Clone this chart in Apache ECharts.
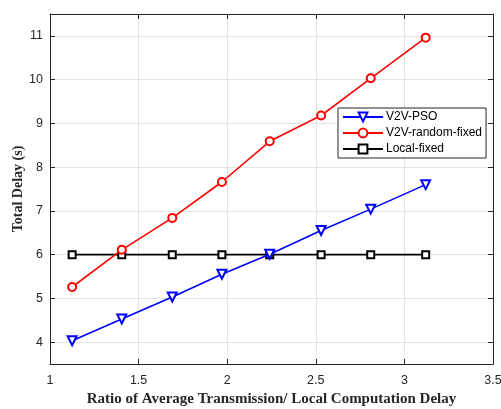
<!DOCTYPE html>
<html><head><meta charset="utf-8">
<script src="https://cdn.jsdelivr.net/npm/echarts@6/dist/echarts.min.js"></script>
<style>html,body{margin:0;padding:0;background:#fff}#c{width:501px;height:409px}</style>
</head><body><div id="c"></div>
<script>
var xValues = [1.125, 1.405, 1.69, 1.97, 2.24, 2.53, 2.81, 3.12];
var pso = [4.03, 4.53, 5.03, 5.55, 6.01, 6.55, 7.04, 7.60];
var randomFixed = [5.26, 6.11, 6.84, 7.66, 8.59, 9.18, 10.03, 10.96];
var localFixed = [6, 6, 6, 6, 6, 6, 6, 6];
var xTicks = [1, 1.5, 2, 2.5, 3, 3.5];
var yTicks = [4, 5, 6, 7, 8, 9, 10, 11];

function pairs(ys){ return xValues.map(function(x,i){ return [x, ys[i]]; }); }
var axisCol = '#262626';
var chart = echarts.init(document.getElementById('c'));
var baseX = {
  type:'value', min:1, max:3.5, interval:0.5,
  axisLine:{show:true, onZero:false, lineStyle:{color:axisCol, width:1}},
  axisTick:{show:true, inside:true, length:5, lineStyle:{color:axisCol}},
  splitLine:{show:true, lineStyle:{color:'#e3e3e3', width:1}}
};
var baseY = {
  type:'value', min:3.5, max:11.5,
  axisLine:{show:true, onZero:false, lineStyle:{color:axisCol, width:1}},
  axisTick:{show:true, inside:true, length:5, customValues:yTicks, lineStyle:{color:axisCol}},
  splitLine:{show:true, lineStyle:{color:'#e3e3e3', width:1}}
};
chart.setOption({
  animation:false,
  grid:{left:50, right:8, top:14, bottom:45, containLabel:false, outerBoundsMode:'none'},
  graphic:[{
    type:'text', x:18, y:189, rotation:Math.PI/2,
    style:{text:'Total Delay (s)', align:'center', verticalAlign:'middle',
      font:'bold 14px "Liberation Serif"', fill:axisCol}
  }],
  xAxis:[
    Object.assign({}, baseX, {position:'bottom',
      axisLabel:{color:axisCol, fontSize:12.5, fontFamily:'Liberation Sans', margin:10},
      name:'Ratio of Average Transmission/ Local Computation Delay', nameLocation:'middle', nameGap:27,
      nameTextStyle:{fontFamily:'Liberation Serif', fontWeight:'bold', fontSize:15, color:axisCol}}),
    Object.assign({}, baseX, {position:'top', axisLabel:{show:false}, splitLine:{show:false}})
  ],
  yAxis:[
    Object.assign({}, baseY, {position:'left',
      axisLabel:{color:axisCol, fontSize:12.5, fontFamily:'Liberation Sans', margin:7, customValues:yTicks}}),
    Object.assign({}, baseY, {position:'right', axisLabel:{show:false, customValues:yTicks}, splitLine:{show:false}})
  ],
  legend:{
    orient:'vertical', left:338, top:108,
    backgroundColor:'#fff', borderColor:'#262626', borderWidth:1, borderRadius:0,
    padding:[3, 4, 3, 4], itemGap:4, itemWidth:40, itemHeight:11,
    textStyle:{fontFamily:'Liberation Sans', fontSize:12, color:'#000', padding:[0,0,0,-2]},
    data:['V2V-PSO','V2V-random-fixed','Local-fixed']
  },
  series:[
    {name:'V2V-PSO', type:'line', data:pairs(pso), symbol:'emptyTriangle', symbolRotate:180, symbolSize:9,
     lineStyle:{color:'#0000ff', width:1.6}, itemStyle:{color:'#0000ff', borderWidth:1.6}, z:4},
    {name:'V2V-random-fixed', type:'line', data:pairs(randomFixed), symbol:'emptyCircle', symbolSize:8,
     lineStyle:{color:'#ff0000', width:1.6}, itemStyle:{color:'#ff0000', borderWidth:1.6}, z:3},
    {name:'Local-fixed', type:'line', data:pairs(localFixed), symbol:'emptyRect', symbolSize:7,
     lineStyle:{color:'#000000', width:1.6}, itemStyle:{color:'#000000', borderWidth:1.6}, z:2}
  ]
});
</script></body></html>
